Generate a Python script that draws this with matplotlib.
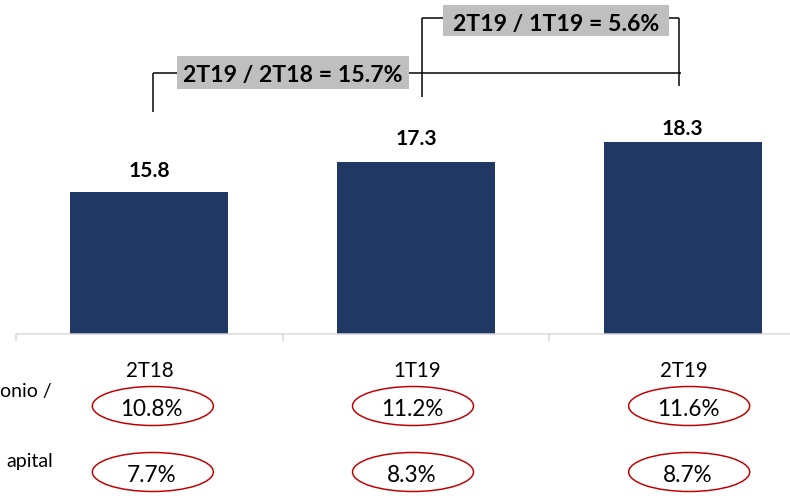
import matplotlib
matplotlib.use("Agg")
import matplotlib.pyplot as plt
from matplotlib.patches import Ellipse, Rectangle

plt.rcParams['font.family'] = ['Lato', 'DejaVu Sans']

# ---- data ----
categories = ["2T18", "1T19", "2T19"]
values = [15.8, 17.3, 18.3]
row1_pct = ["10.8%", "11.2%", "11.6%"]
row2_pct = ["7.7%", "8.3%", "8.7%"]
row_labels = ["onio /", "apital"]
growth_labels = ["2T19 / 2T18 = 15.7%", "2T19 / 1T19 = 5.6%"]

# ---- layout (pixels, dpi 72 so 1pt = 1px) ----
W, H = 790, 502
DPI = 72
BASE_PX = 334          # axis line y (px from top)
LEFT_PX = 16
CELL_PX = 266.67
PX_PER_UNIT = 20.0
YMIN = 8.7

fig = plt.figure(figsize=(W / DPI, H / DPI), dpi=DPI)
ax = fig.add_axes([LEFT_PX / W, (H - BASE_PX) / H, 3 * CELL_PX / W, BASE_PX / H])
ax.set_xlim(-0.5, 2.5)
ax.set_ylim(YMIN, YMIN + BASE_PX / PX_PER_UNIT)


def dx(px):
    return (px - LEFT_PX) / CELL_PX - 0.5


def dy(py):
    return YMIN + (BASE_PX - py) / PX_PER_UNIT


bar_color = "#203864"
x = list(range(len(categories)))
bars = ax.bar(x, values, width=0.592, color=bar_color, zorder=2)

# value labels
gaps = [15, 17, 7]
for xi, v, g in zip(x, values, gaps):
    ax.annotate(f"{v:.1f}", (xi, v), xytext=(0, g), textcoords="offset points",
                ha="center", va="baseline", fontsize=21, fontweight="bold",
                color="black")

# axes styling
for s in ["top", "right", "left"]:
    ax.spines[s].set_visible(False)
ax.spines["bottom"].set_color("#d9d9d9")
ax.spines["bottom"].set_linewidth(1.5)
ax.set_yticks([])
ax.set_xticks([])
ax.set_xticks([-0.5, 0.5, 1.5, 2.5], minor=True)
ax.tick_params(axis="x", which="minor", length=7, width=1.5, color="#d9d9d9",
               labelbottom=False)

# category labels
for xi, c in zip(x, categories):
    ax.text(xi + 0.003, dy(377), c, ha="center", va="baseline", fontsize=20.5,
            color="black", clip_on=False)

# ellipses with percentages
ell_off_px = [3.5, -3, 6.5]
for xi, p1, p2, o in zip(x, row1_pct, row2_pct, ell_off_px):
    cx = xi + o / CELL_PX
    for cy_px, base_px, txt in [(406, 416.5, p1), (472, 482, p2)]:
        e = Ellipse((cx, dy(cy_px)), 121 / CELL_PX, 39 / PX_PER_UNIT,
                    facecolor="none", edgecolor="#c00000", linewidth=1.5,
                    clip_on=False, zorder=3)
        ax.add_patch(e)
        ax.text(cx - 1 / CELL_PX, dy(base_px), txt, ha="center", va="baseline",
                fontsize=22.5, color="black", clip_on=False)

# left row labels (cut off in the source)
ax.text(dx(52), dy(397), row_labels[0], ha="right", va="baseline",
        fontsize=19.5, color="black", clip_on=False)
ax.text(dx(53), dy(467), row_labels[1], ha="right", va="baseline",
        fontsize=19.5, color="black", clip_on=False)

# brackets
lk = dict(color="black", linewidth=1.5, solid_capstyle="butt", zorder=4)
# bracket 1 (2T18 -> 2T19)
ax.plot([dx(153), dx(153)], [dy(112), dy(73)], **lk)
ax.plot([dx(153), dx(681)], [dy(73), dy(73)], **lk)
# bracket 2 (1T19 -> 2T19)
ax.plot([dx(422), dx(422)], [dy(97), dy(18)], **lk)
ax.plot([dx(422), dx(679)], [dy(18), dy(18)], **lk)
ax.plot([dx(679), dx(679)], [dy(18), dy(86)], **lk)

# growth boxes
boxes = [(177, 56, 409, 89, 82), (443, 5, 669, 36, 31)]
for (x0, y0, x1, y1, bl), lab in zip(boxes, growth_labels):
    r = Rectangle((dx(x0), dy(y1)), (x1 - x0) / CELL_PX, (y1 - y0) / PX_PER_UNIT,
                  facecolor="#bfbfbf", edgecolor="none", zorder=5)
    ax.add_patch(r)
    ax.text(dx((x0 + x1) / 2), dy(bl), lab, ha="center", va="baseline",
            fontsize=23, fontweight="bold", color="black", zorder=6)

fig.savefig("out.png", dpi=DPI)
